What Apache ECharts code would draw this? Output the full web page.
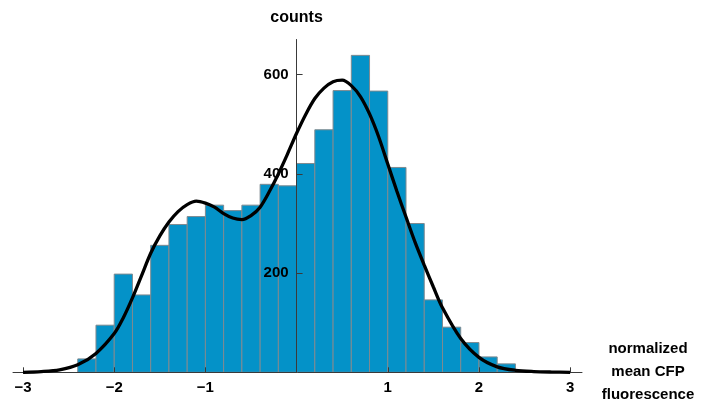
<!DOCTYPE html>
<html>
<head>
<meta charset="utf-8">
<style>
  html, body { margin: 0; padding: 0; background: #fff; }
  #chart { width: 702px; height: 402px; }
</style>
<script src="https://cdn.jsdelivr.net/npm/echarts@6/dist/echarts.min.js"></script>
</head>
<body>
<div id="chart"></div>
<script>
// Histogram bins (left edges, width 0.2) and counts
const binLeft = [-2.4, -2.2, -2.0, -1.8, -1.6, -1.4, -1.2, -1.0, -0.8, -0.6, -0.4, -0.2,
                 0.0, 0.2, 0.4, 0.6, 0.8, 1.0, 1.2, 1.4, 1.6, 1.8, 2.0, 2.2];
const binWidth = 0.2;
const counts = [27, 95, 198, 156, 256, 298, 314, 337, 326, 337, 379, 376,
                421, 489, 568, 639, 567, 413, 300, 146, 91, 60, 31, 17];

// Smoothed density curve, scaled to counts
const curveX = [-3.0, -2.8, -2.6, -2.4, -2.2, -2.0, -1.9, -1.8, -1.7, -1.6, -1.5, -1.4,
                -1.3, -1.2, -1.1, -1.0, -0.9, -0.8, -0.7, -0.6, -0.5, -0.4, -0.3, -0.2,
                -0.1, 0.0, 0.1, 0.2, 0.3, 0.4, 0.5, 0.6, 0.7, 0.8, 0.9, 1.0,
                1.1, 1.2, 1.3, 1.4, 1.5, 1.6, 1.8, 2.0, 2.2, 2.4, 2.6, 2.8, 3.0];
const curveY = [0, 1.5, 5, 15, 38, 78, 110, 150, 195, 240, 275, 303,
                324, 338, 345, 341, 333, 320, 311, 308, 316, 333, 364, 400,
                440, 482, 520, 552, 573, 586, 589, 578, 556, 521, 475, 420,
                365, 313, 262, 216, 172, 130, 68, 30, 11, 4, 1.5, 0.5, 0];

const xTicks = [-3, -2, -1, 0, 1, 2, 3];
const xTickLabels = [-3, -2, -1, 1, 2, 3];
const yTicks = [200, 400, 600];

const FONT = '"Liberation Sans", Arial, sans-serif';
const AXIS_COLOR = '#3a3a3a';

const X_MIN = -3.11, X_MAX = 3.13;
const GRID_LEFT = 13, GRID_RIGHT = 120;
const PLOT_W = 702 - GRID_LEFT - GRID_RIGHT;
// vertical axis sits at x = 0, shifted inward from the grid's left edge
const Y_AXIS_SHIFT = (0 - X_MIN) / (X_MAX - X_MIN) * PLOT_W;

const barData = binLeft.map((x, i) => [x, x + binWidth, counts[i]]);
const curveData = curveX.map((x, i) => [x, curveY[i]]);

const chart = echarts.init(document.getElementById('chart'));
chart.setOption({
  animation: false,
  backgroundColor: '#fff',
  grid: { left: GRID_LEFT, right: GRID_RIGHT, top: 39.5, bottom: 29.7, containLabel: false, outerBoundsMode: 'none' },
  xAxis: {
    type: 'value',
    z: 3,
    min: X_MIN,
    max: X_MAX,
    name: 'normalized\nmean CFP\nfluorescence',
    nameLocation: 'end',
    nameGap: 66,
    nameTextStyle: {
      fontFamily: FONT, fontWeight: 'bold', fontSize: 15, color: '#000',
      align: 'center', verticalAlign: 'middle', lineHeight: 23
    },
    axisLine: { onZero: false, lineStyle: { color: AXIS_COLOR, width: 1 } },
    axisTick: { inside: true, length: 5, customValues: xTicks, lineStyle: { color: AXIS_COLOR } },
    axisLabel: {
      customValues: xTickLabels,
      margin: 8,
      fontFamily: FONT, fontWeight: 'bold', fontSize: 15, color: '#000',
      formatter: v => (v < 0 ? '\u2212' + Math.abs(v) : String(v))
    },
    splitLine: { show: false }
  },
  yAxis: {
    type: 'value',
    z: 3,
    min: 0,
    max: 671,
    position: 'left',
    offset: -Y_AXIS_SHIFT,
    name: 'counts',
    nameLocation: 'end',
    nameGap: 14,
    nameTextStyle: { fontFamily: FONT, fontWeight: 'bold', fontSize: 16, color: '#000', align: 'center' },
    axisLine: { show: true, onZero: false, lineStyle: { color: AXIS_COLOR, width: 1 } },
    axisTick: { show: true, inside: true, length: 6, customValues: yTicks, lineStyle: { color: AXIS_COLOR } },
    axisLabel: {
      customValues: yTicks,
      margin: 8,
      fontFamily: FONT, fontWeight: 'bold', fontSize: 15, color: '#000'
    },
    splitLine: { show: false }
  },
  series: [
    {
      type: 'custom',
      z: 1,
      data: barData,
      encode: { x: [0, 1], y: 2 },
      renderItem: function (params, api) {
        const top = api.coord([api.value(0), api.value(2)]);
        const bottom = api.coord([api.value(1), 0]);
        return {
          type: 'rect',
          shape: { x: top[0], y: top[1], width: bottom[0] - top[0], height: bottom[1] - top[1] },
          style: { fill: '#0492c8', stroke: '#7f8a90', lineWidth: 1 }
        };
      }
    },
    {
      type: 'line',
      z: 5,
      data: curveData,
      smooth: 0.3,
      showSymbol: false,
      symbol: 'none',
      lineStyle: { color: '#000', width: 3.3 }
    }
  ]
});
</script>
</body>
</html>
